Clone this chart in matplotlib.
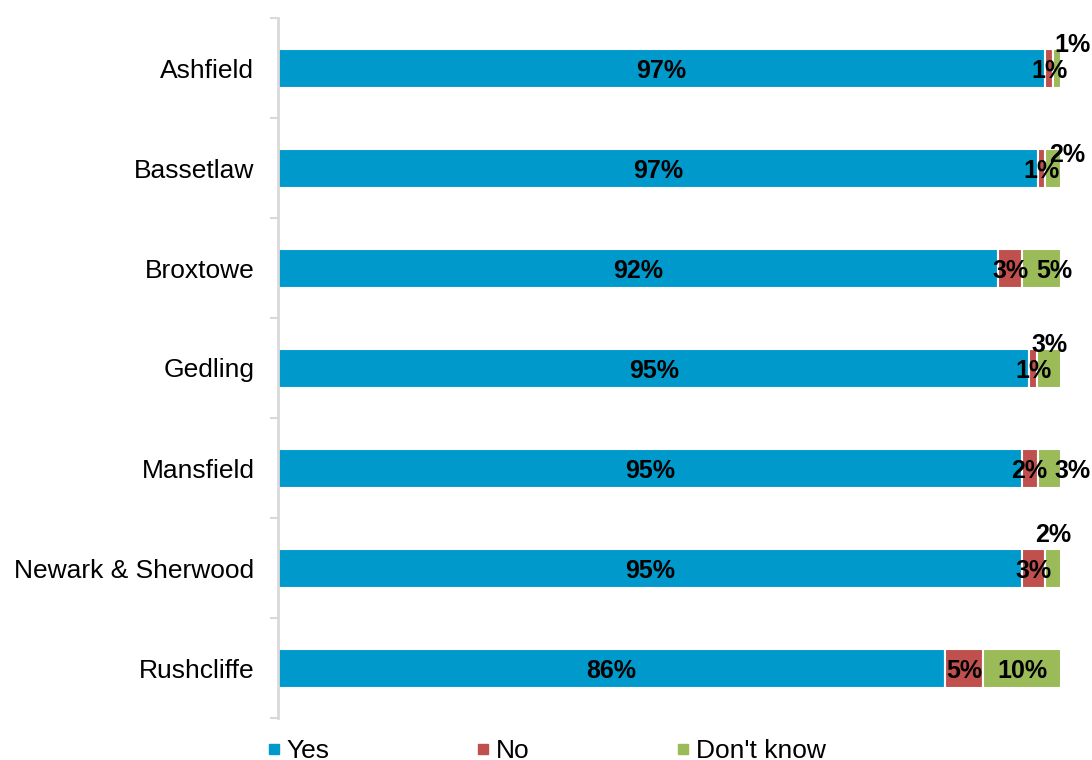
import matplotlib
matplotlib.use("Agg")
import matplotlib.pyplot as plt
from matplotlib.lines import Line2D
import numpy as np

plt.rcParams['font.family'] = ['Liberation Sans', 'DejaVu Sans']

districts = ["Ashfield", "Bassetlaw", "Broxtowe", "Gedling", "Mansfield",
             "Newark & Sherwood", "Rushcliffe"]
yes = [97, 97, 92, 95, 95, 95, 86]
no = [1, 1, 3, 1, 2, 3, 5]
dont_know = [1, 2, 5, 3, 3, 2, 10]

series_names = ["Yes", "No", "Don't know"]
colors = ["#0099CC", "#C0504D", "#9BBB59"]

# label nudges (pixels) for the narrow "Don't know" segments
dk_offsets = {0: (15, 26), 1: (14, 15), 2: (13, 0), 3: (0, 25),
              4: (23, 0), 5: (0, 35)}

fig = plt.figure(figsize=(10.92, 7.6), dpi=100)
ax = fig.add_axes([278 / 1092, 1 - 718 / 760, (1061 - 278) / 1092, 700 / 760])

data = np.array([yes, no, dont_know], dtype=float)
totals = data.sum(axis=0)
shares = data / totals  # 100% stacked

y = np.arange(len(districts))
left = np.zeros(len(districts))
for s, (name, col) in enumerate(zip(series_names, colors)):
    ax.barh(y, shares[s], left=left, height=0.39, color=col,
            edgecolor="white", linewidth=1.5, label=name)
    for i in range(len(districts)):
        cx = left[i] + shares[s][i] / 2
        off = (0, 0)
        if s == 2 and i in dk_offsets:
            off = dk_offsets[i]
        ax.annotate(f"{int(data[s][i])}%", (cx, y[i]), xytext=off,
                    textcoords="offset pixels", ha="center",
                    va="center_baseline",
                    fontsize=18, fontweight="bold", color="black",
                    annotation_clip=False)
    left += shares[s]

ax.set_xlim(0, 1)
ax.set_ylim(len(districts) - 0.5, -0.5)
ax.set_yticks(y)
ax.set_yticklabels(districts, fontsize=19)
ax.tick_params(axis="y", which="major", length=0, pad=17)
ax.set_yticks(np.arange(-0.5, len(districts)), minor=True)
ax.tick_params(axis="y", which="minor", length=6, width=1.5, color="#D9D9D9")
ax.set_xticks([])
for sp in ["top", "right", "bottom"]:
    ax.spines[sp].set_visible(False)
ax.spines["left"].set_color("#D9D9D9")
ax.spines["left"].set_linewidth(2)

handles = [Line2D([0], [0], marker="s", linestyle="none", markersize=7,
                  markerfacecolor=c, markeredgecolor=c) for c in colors]
fig.legend(handles, series_names, loc="center left",
           bbox_to_anchor=(268 / 1092, 1 - 751 / 760), ncol=3, frameon=False,
           fontsize=19, handlelength=0.45, handletextpad=0.25,
           columnspacing=5.6, borderpad=0, borderaxespad=0)

fig.savefig("out.png", dpi=100)
